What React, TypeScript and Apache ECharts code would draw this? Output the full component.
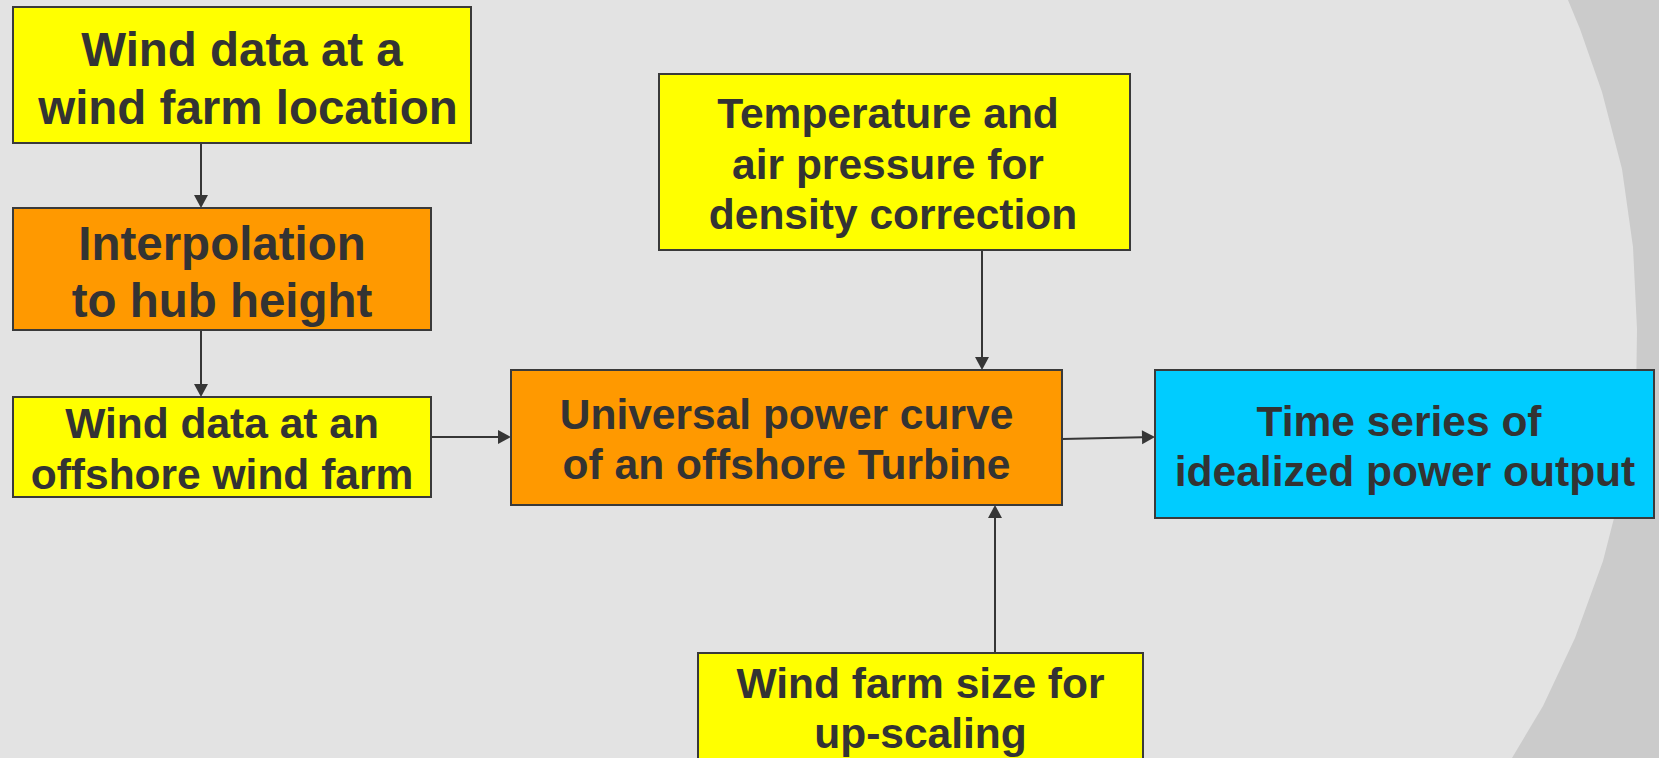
import React, { useEffect, useRef } from 'react';
import * as echarts from 'echarts';

const W = 1659;
const H = 758;

// ---- Flowchart content ----
const nodeIds = ['windSite', 'interp', 'windOffshore', 'density', 'powerCurve', 'output', 'farmSize'];
const nodeLines: string[][] = [
  ['Wind data at a', 'wind farm location'],
  ['Interpolation', 'to hub height'],
  ['Wind data at an', 'offshore wind farm'],
  ['Temperature and', 'air pressure for', 'density correction'],
  ['Universal power curve', 'of an offshore Turbine'],
  ['Time series of', 'idealized power output'],
  ['Wind farm size for', 'up-scaling'],
];
const nodeKinds = ['input', 'process', 'input', 'input', 'process', 'output', 'input'];
const links: [string, string][] = [
  ['windSite', 'interp'],
  ['interp', 'windOffshore'],
  ['windOffshore', 'powerCurve'],
  ['density', 'powerCurve'],
  ['farmSize', 'powerCurve'],
  ['powerCurve', 'output'],
];

// ---- Layout & style (kept apart from the content) ----
const kindColor: Record<string, string> = {
  input: '#ffff00',
  process: '#ff9900',
  output: '#00ccff',
};
type Box = { x: number; y: number; w: number; h: number; font: number; baselines: number[]; cx?: number[] };
const layout: Record<string, Box> = {
  windSite: { x: 13, y: 7, w: 458, h: 136, font: 47.5, baselines: [64, 122], cx: [242, 248] },
  interp: { x: 13, y: 208, w: 418, h: 122, font: 47.5, baselines: [258, 315] },
  windOffshore: { x: 13, y: 397, w: 418, h: 100, font: 42.5, baselines: [437, 488] },
  density: { x: 659, y: 74, w: 471, h: 176, font: 42.5, baselines: [127, 178, 228], cx: [888, 888, 893] },
  powerCurve: { x: 511, y: 370, w: 551, h: 135, font: 42.5, baselines: [428, 478] },
  output: { x: 1155, y: 370, w: 499, h: 148, font: 42.5, baselines: [435, 485], cx: [1399, 1405] },
  farmSize: { x: 698, y: 653, w: 445, h: 130, font: 42.5, baselines: [697, 747] },
};
const linkPaths: Record<string, number[][]> = {
  'windSite>interp': [[201, 143], [201, 208]],
  'interp>windOffshore': [[201, 330], [201, 397]],
  'windOffshore>powerCurve': [[431, 437], [511, 437]],
  'density>powerCurve': [[982, 250], [982, 370]],
  'farmSize>powerCurve': [[995, 653], [995, 505]],
  'powerCurve>output': [[1062, 439], [1155, 437]],
};
const bgShape: number[][] = [
  [1568, 0], [1580, 29], [1602, 92], [1622, 169], [1633, 247], [1637, 329],
  [1636, 400], [1630, 460], [1613, 522], [1603, 561], [1575, 638], [1543, 706],
  [1512, 758], [W, H], [W, 0],
];

const TEXT_COLOR = '#333333';
const LINE_COLOR = '#363636';
const FONT_FAMILY = '"Liberation Sans", Arial, Helvetica, sans-serif';
const CENTRAL = 0.31; // distance from alphabetic baseline to the SVG "central" baseline, in em

function buildGraphic() {
  const els: any[] = [];
  els.push({ type: 'rect', shape: { x: 0, y: 0, width: W, height: H }, style: { fill: '#e3e3e3' }, silent: true });
  els.push({ type: 'polygon', shape: { points: bgShape }, style: { fill: '#cbcbcb' }, silent: true });

  // links
  links.forEach(([a, b]) => {
    const pts = linkPaths[`${a}>${b}`];
    const [x1, y1] = pts[0];
    const [x2, y2] = pts[1];
    const dx = x2 - x1;
    const dy = y2 - y1;
    const len = Math.sqrt(dx * dx + dy * dy);
    const ux = dx / len;
    const uy = dy / len;
    const headL = 13;
    const headW = 7;
    const bx = x2 - ux * headL;
    const by = y2 - uy * headL;
    els.push({
      type: 'line',
      shape: { x1, y1, x2: bx, y2: by },
      style: { stroke: LINE_COLOR, lineWidth: 2 },
      silent: true,
    });
    els.push({
      type: 'polygon',
      shape: {
        points: [
          [x2, y2],
          [bx - uy * headW, by + ux * headW],
          [bx + uy * headW, by - ux * headW],
        ],
      },
      style: { fill: LINE_COLOR },
      silent: true,
    });
  });

  // nodes
  nodeIds.forEach((id, i) => {
    const L = layout[id];
    els.push({
      type: 'rect',
      shape: { x: L.x, y: L.y, width: L.w, height: L.h },
      style: { fill: kindColor[nodeKinds[i]], stroke: '#3a3a3a', lineWidth: 2 },
      silent: true,
    });
    nodeLines[i].forEach((line, j) => {
      const cx = L.cx ? L.cx[j] : L.x + L.w / 2;
      const cy = L.baselines[j] - CENTRAL * L.font;
      els.push({
        type: 'text',
        x: cx,
        y: cy,
        style: {
          text: line,
          x: 0,
          y: 0,
          fill: TEXT_COLOR,
          font: `bold ${L.font}px ${FONT_FAMILY}`,
          textAlign: 'center',
          textVerticalAlign: 'middle',
          align: 'center',
          verticalAlign: 'middle',
        },
        silent: true,
      });
    });
  });
  return els;
}

export default function App() {
  const ref = useRef<HTMLDivElement>(null);
  useEffect(() => {
    document.body.style.margin = '0';
    document.body.style.overflow = 'hidden';
    if (!ref.current) return;
    const chart = echarts.init(ref.current, undefined, { renderer: 'svg', width: W, height: H });
    chart.setOption({
      animation: false,
      backgroundColor: '#e3e3e3',
      graphic: { elements: buildGraphic() },
    });
    return () => chart.dispose();
  }, []);
  return <div ref={ref} style={{ width: W, height: H }} />;
}
